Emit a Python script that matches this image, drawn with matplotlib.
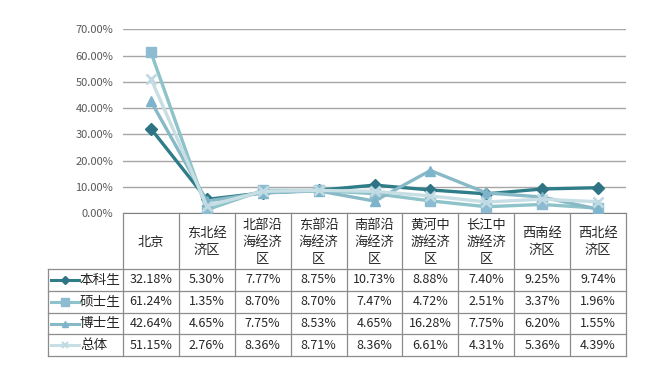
import matplotlib.pyplot as plt
from matplotlib.lines import Line2D

plt.rcParams['font.family'] = ['Noto Sans CJK SC', 'DejaVu Sans']

# data
regions = ["北京", "东北经\n济区", "北部沿\n海经济\n区", "东部沿\n海经济\n区", "南部沿\n海经济\n区",
           "黄河中\n游经济\n区", "长江中\n游经济\n区", "西南经\n济区", "西北经\n济区"]
series_names = ["本科生", "硕士生", "博士生", "总体"]
benke = [32.18, 5.30, 7.77, 8.75, 10.73, 8.88, 7.40, 9.25, 9.74]
shuoshi = [61.24, 1.35, 8.70, 8.70, 7.47, 4.72, 2.51, 3.37, 1.96]
boshi = [42.64, 4.65, 7.75, 8.53, 4.65, 16.28, 7.75, 6.20, 1.55]
zongti = [51.15, 2.76, 8.36, 8.71, 8.36, 6.61, 4.31, 5.36, 4.39]
yticks = [0, 10, 20, 30, 40, 50, 60, 70]

values = [benke, shuoshi, boshi, zongti]
line_colors = ["#2E7D88", "#8DC3C9", "#88B9C6", "#C6DEE4"]
marker_colors = ["#2E7484", "#8DBBD1", "#7DB4CC", "#C0DAE3"]
markers = ["D", "s", "^", "x"]
msizes = [6, 7.5, 7, 7]

W, H = 671, 371
fig = plt.figure(figsize=(W / 100, H / 100), dpi=100)

# pixel layout
x0, x1 = 123, 626
y_top, y_zero = 29.3, 213.3
left_x = 48
row_edges = [213.3, 269, 290.8, 312.6, 334.4, 356]

ax = fig.add_axes([x0 / W, 1 - y_zero / H, (x1 - x0) / W, (y_zero - y_top) / H])
n = len(regions)
xs = list(range(n))
for vals, lc, mc, mk, ms in zip(values, line_colors, marker_colors, markers, msizes):
    ax.plot(xs, vals, color=lc, lw=2.4, marker=mk, ms=ms, mfc=mc, mec=mc,
            mew=2 if mk == "x" else 1, zorder=3)
ax.set_xlim(-0.5, n - 0.5)
ax.set_ylim(0, 70)
ax.set_yticks(yticks)
ax.set_yticklabels(["%.2f%%" % t for t in yticks], fontsize=8, color="#595959")
ax.tick_params(axis="y", length=0, pad=7)
ax.set_xticks([])
ax.grid(axis="y", color="#A6A6A6", lw=1)
for s in ["top", "right", "left"]:
    ax.spines[s].set_visible(False)
ax.spines["bottom"].set_color("#808080")
ax.set_axisbelow(True)

# data table below the chart
tab = fig.add_axes([0, 0, 1, 1])
tab.set_xlim(0, W)
tab.set_ylim(H, 0)
tab.axis("off")
cw = (x1 - x0) / n
grid_c = "#8C8C8C"
for i in range(n + 1):
    xx = x0 + i * cw
    tab.plot([xx, xx], [row_edges[0], row_edges[-1]], color=grid_c, lw=0.9)
tab.plot([left_x, left_x], [row_edges[1], row_edges[-1]], color=grid_c, lw=0.9)
for yy in row_edges[1:]:
    tab.plot([left_x, x1], [yy, yy], color=grid_c, lw=0.9)

for i, name in enumerate(regions):
    cx = x0 + (i + 0.5) * cw
    tab.text(cx, (row_edges[0] + row_edges[1]) / 2 + 1, name, ha="center", va="center",
             fontsize=9.5, color="#262626", linespacing=1.4)

for r, (name, vals) in enumerate(zip(series_names, values)):
    cy = (row_edges[r + 1] + row_edges[r + 2]) / 2
    for i, v in enumerate(vals):
        cx = x0 + (i + 0.5) * cw
        tab.text(cx, cy, "%.2f%%" % v, ha="center", va="center", fontsize=9, color="#262626")
    tab.add_line(Line2D([51, 79], [cy, cy], color=line_colors[r], lw=2.2))
    tab.plot([65], [cy], marker=markers[r], ms=msizes[r] - 2, color=marker_colors[r],
             mew=1.5 if markers[r] == "x" else 1)
    tab.text(80, cy, name, ha="left", va="center", fontsize=9.8, color="#262626")

fig.savefig("out.png", dpi=100)
